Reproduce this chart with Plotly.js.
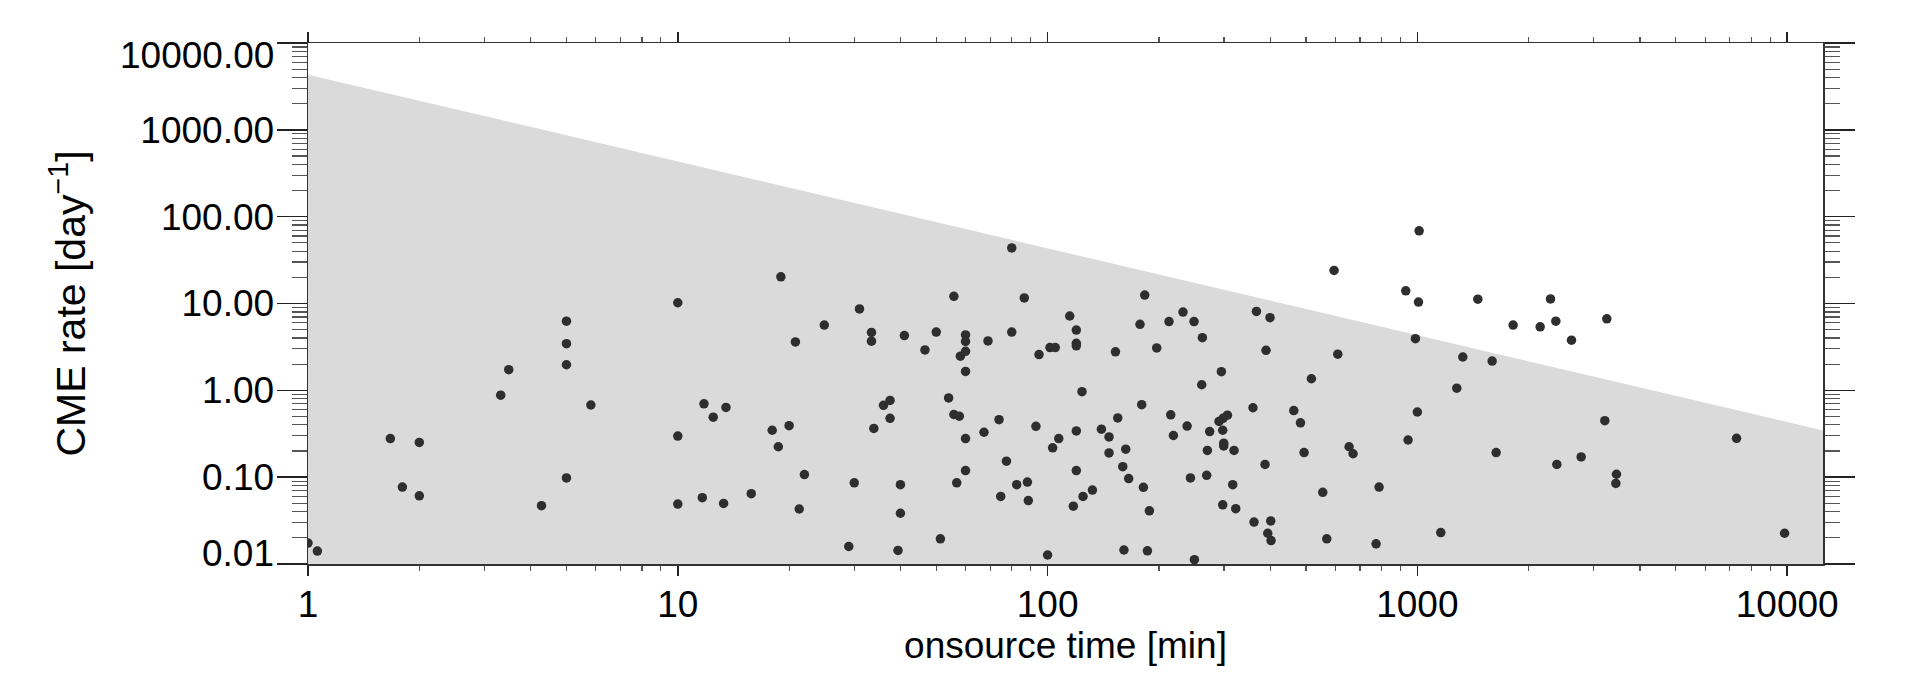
<!DOCTYPE html>
<html>
<head>
<meta charset="utf-8">
<script src="https://cdn.plot.ly/plotly-3.0.1.min.js"></script>
<style>
html, body { margin: 0; padding: 0; background: #ffffff; }
#chart { width: 1911px; height: 673px; }
</style>
</head>
<body>
<div id="chart"></div>
<script>
// Onsource time [min] of each event
var onsourceTime = [
  1, 1.06, 1.67, 2.0, 1.8, 2.0, 3.32, 3.49, 4.28, 5, 5, 5, 5, 5.82, 10, 10, 10,
  11.65, 11.77, 12.47, 13.5, 13.3, 15.8, 18.0, 18.7, 19.0, 20, 20.8, 21.3, 22.0, 24.9, 29.0, 30, 31.0, 33.4, 33.4, 33.9,
  36.0, 37.5, 37.5, 39.4, 40, 40, 41.0, 46.6, 50, 51.3, 54.0, 55.8, 55.8, 57.7, 56.8, 58.1, 60, 60, 60, 60, 60, 60,
  67.3, 69.0, 73.9, 74.7, 77.4, 80, 80, 82.5, 86.5, 88.2, 88.7, 93.0, 94.8, 100, 101.5, 104.9, 103.2, 107.2, 114.8,
  119.6, 119.6, 119.6, 123.9, 119.6, 119.6, 117.4, 124.7, 132.2,
  139.8, 146.6, 146.6, 152.6, 154.8, 162.7, 159.7, 165.7, 160.9, 177.8, 183.1, 179.7, 181.6, 186.2, 188.5, 197.3,
  213.0, 215.3, 218.9, 232.4, 238.4, 243.4, 248.9, 249.5, 261.1, 262.2, 269.3, 270.5, 274.4, 290.8, 298.2, 306.4,
  295.1, 297.6, 299.5, 299.5, 319.3, 297.6, 316.7, 322.7, 361.6, 367.1, 359.3, 387.3, 389.7, 399.5, 393.9, 401.3,
  402.1, 463.2, 482.9, 493.9, 517.0, 554.8, 568.8, 595.3, 609.2, 653.6, 670.1, 773.3, 787.9, 930.3, 943.8, 988,
  1007, 1011, 1000, 1157, 1278, 1327, 1457, 1593, 1633,
  1815, 2148, 2291, 2368, 2383, 2611, 2773, 3213, 3253, 3455, 3441, 7297, 9840
];

// CME rate [day^-1] of each event
var cmeRate = [
  0.0174, 0.0141, 0.278, 0.251, 0.077, 0.061, 0.88, 1.73, 0.047, 6.25, 3.45, 1.97, 0.098, 0.678, 10.2, 0.297, 0.049,
  0.058, 0.70, 0.49, 0.635, 0.0498, 0.0646, 0.347, 0.224, 20.3, 0.392, 3.61, 0.043, 0.107, 5.64, 0.0159, 0.086, 8.65, 4.64, 3.68, 0.364,
  0.672, 0.765, 0.476, 0.01435, 0.082, 0.0384, 4.27, 2.92, 4.69, 0.0195, 0.817, 12.1, 0.527, 0.504, 0.086, 2.47, 4.35, 3.65, 2.81, 1.65, 0.278, 0.119,
  0.329, 3.71, 0.459, 0.060, 0.153, 43.6, 4.69, 0.082, 11.6, 0.0879, 0.0537, 0.385, 2.58, 0.0127, 3.11, 3.11, 0.218, 0.278, 7.18,
  4.95, 3.48, 3.26, 0.966, 0.341, 0.119, 0.0463, 0.060, 0.071,
  0.357, 0.291, 0.19, 2.78, 0.481, 0.210, 0.132, 0.0964, 0.0145, 5.75, 12.5, 0.684, 0.0764, 0.0142, 0.041, 3.08,
  6.19, 0.523, 0.302, 7.96, 0.388, 0.098, 6.19, 0.0112, 1.16, 4.04, 0.105, 0.203, 0.335, 0.438, 0.476, 0.518,
  1.64, 0.347, 0.246, 0.229, 0.203, 0.048, 0.082, 0.0434, 0.0304, 8.11, 0.63, 0.14, 2.89, 6.86, 0.0226, 0.0313,
  0.0186, 0.585, 0.422, 0.192, 1.36, 0.067, 0.0195, 24.0, 2.61, 0.224, 0.186, 0.0171, 0.077, 14.0, 0.268, 3.93,
  10.4, 68.7, 0.563, 0.023, 1.06, 2.42, 11.2, 2.17, 0.192,
  5.64, 5.39, 11.3, 6.25, 0.14, 3.78, 0.171, 0.447, 6.67, 0.108, 0.0846, 0.28, 0.0226
];

// Upper boundary of the shaded region (rate limit vs onsource time)
var boundaryTime = [1, 12500];
var boundaryRate = [4320, 0.3456];

// Axis ranges and ticks
var timeRange = [1, 12500];
var rateRange = [0.01, 10000];
var timeTickVals = [1, 10, 100, 1000, 10000];
var timeTickText = ['1', '10', '100', '1000', '10000'];
var rateTickVals = [0.01, 0.1, 1, 10, 100, 1000, 10000];
var rateTickText = ['0.01', '0.10', '1.00', '10.00', '100.00', '1000.00', '10000.00'];

var floorRate = rateRange[0] / 10;
var shade = {
  x: [boundaryTime[0], boundaryTime[1], boundaryTime[1], boundaryTime[0]],
  y: [boundaryRate[0], boundaryRate[1], floorRate, floorRate],
  type: 'scatter',
  mode: 'lines',
  fill: 'toself',
  fillcolor: '#dadada',
  line: { width: 0, color: 'rgba(0,0,0,0)' },
  hoverinfo: 'skip',
  showlegend: false
};

var events = {
  x: onsourceTime,
  y: cmeRate,
  type: 'scatter',
  mode: 'markers',
  marker: { size: 9.5, color: '#2e2e2e', line: { width: 0 } },
  showlegend: false
};

var fontFam = '"Liberation Sans", Arial, Helvetica, sans-serif';
var lastIdx = rateTickText.length - 1;

// The end labels of the rate axis sit slightly inside the frame, as in the original
var rateShownText = rateTickText.map(function (t, i) { return (i === 0 || i === lastIdx) ? '' : t; });
var endLabels = [
  { text: rateTickText[lastIdx], y: Math.log10(rateTickVals[lastIdx]), yshift: -12 },
  { text: rateTickText[0], y: Math.log10(rateTickVals[0]), yshift: 11 }
].map(function (a) {
  return {
    xref: 'paper', yref: 'y', x: 0, y: a.y,
    xanchor: 'right', yanchor: 'middle',
    xshift: -32, yshift: a.yshift,
    text: a.text, showarrow: false,
    font: { family: fontFam, size: 37, color: '#000000' }
  };
});

var layout = {
  width: 1911,
  height: 673,
  margin: { l: 308, r: 88, t: 43, b: 109, pad: 0 },
  paper_bgcolor: '#ffffff',
  plot_bgcolor: '#ffffff',
  font: { family: fontFam, size: 37, color: '#000000' },
  showlegend: false,
  annotations: endLabels,
  xaxis: {
    type: 'log',
    range: [Math.log10(timeRange[0]), Math.log10(timeRange[1])],
    tickvals: timeTickVals,
    ticktext: timeTickText,
    ticks: 'outside',
    ticklen: 10,
    tickwidth: 1.5,
    tickcolor: '#222',
    ticklabelstandoff: -3,
    showline: true,
    linecolor: '#333',
    linewidth: 1.5,
    mirror: 'ticks',
    showgrid: false,
    zeroline: false,
    tickfont: { size: 37 },
    minor: { dtick: 'D1', ticks: 'outside', ticklen: 5, tickwidth: 1.2, tickcolor: '#555', showgrid: false },
    title: { text: 'onsource time [min]', font: { size: 37 }, standoff: 8 }
  },
  yaxis: {
    type: 'log',
    range: [Math.log10(rateRange[0]), Math.log10(rateRange[1])],
    tickvals: rateTickVals,
    ticktext: rateShownText,
    ticks: 'outside',
    ticklen: 30,
    tickwidth: 1.5,
    tickcolor: '#222',
    ticklabelstandoff: -5,
    showline: true,
    linecolor: '#333',
    linewidth: 1.5,
    mirror: 'ticks',
    showgrid: false,
    zeroline: false,
    tickfont: { size: 37 },
    minor: { dtick: 'D1', ticks: 'outside', ticklen: 15, tickwidth: 1.2, tickcolor: '#555', showgrid: false },
    title: { text: 'CME rate [day<sup>\u22121</sup>]', font: { size: 41 }, standoff: 42 }
  }
};

Plotly.newPlot('chart', [shade, events], layout, { displayModeBar: false, staticPlot: true });
</script>
</body>
</html>
